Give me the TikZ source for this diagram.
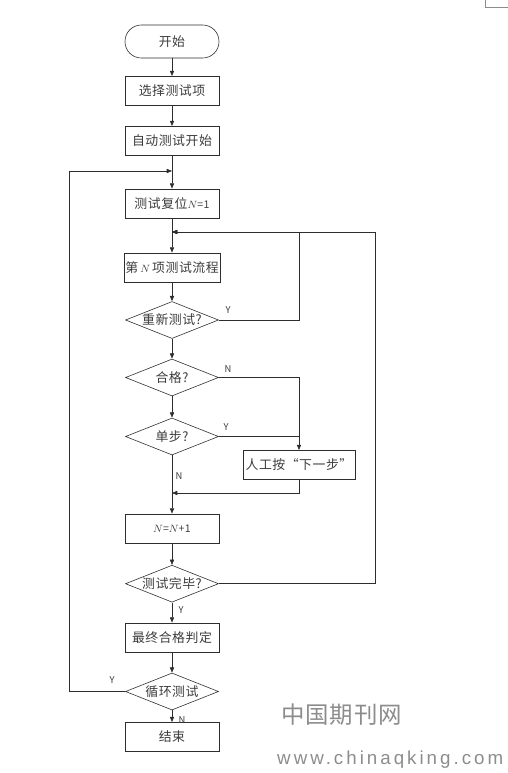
\documentclass[tikz,border=0pt]{standalone}
\usepackage{fontspec}
\usepackage{tikz}
\usetikzlibrary{shapes.geometric, arrows.meta, positioning}
\newfontfamily\cjk[LetterSpace=4]{Noto Sans CJK SC}
\newfontfamily\wmsans[LetterSpace=16]{Liberation Sans}
\definecolor{linegray}{RGB}{45,45,45}
\definecolor{textgray}{RGB}{60,60,60}
\definecolor{markgray}{RGB}{140,140,140}
\newcommand{\smallmath}[1]{{\fontsize{9}{10}\selectfont #1}}

\begin{document}
\begin{tikzpicture}[
  x=0.03cm, y=-0.03cm,
  proc/.style={rectangle, draw=linegray, line width=0.5pt, text=textgray,
               minimum width=2.82cm, minimum height=0.88cm, inner sep=1pt,
               font=\cjk\fontsize{11}{13}\selectfont, align=center},
  term/.style={proc, rounded corners=0.49cm, minimum height=0.99cm},
  decide/.style={diamond, draw=linegray, line width=0.5pt, aspect=2.5, text=textgray,
                 minimum width=2.79cm, minimum height=1.11cm, inner sep=0pt,
                 font=\cjk\fontsize{11}{13}\selectfont},
  arr/.style={-{Triangle[length=4.5pt,width=3.6pt]}, line width=0.5pt, draw=linegray},
  conn/.style={line width=0.5pt, draw=linegray},
  yn/.style={font=\cjk\fontsize{8}{9}\selectfont, text=textgray, inner sep=0pt}
]
  \useasboundingbox (0,0) rectangle (508,773);

  % Main column
  \node[term]   (start)  at (172,41.5)  {开始};
  \node[proc]   (select) at (172,91)    {选择测试项};
  \node[proc]   (auto)   at (172,141)   {自动测试开始};
  \node[proc]   (reset)  at (172,203.5) {测试复位\smallmath{$N$=1}};
  \node[proc]   (flow)   at (172,267.5) {第\,\smallmath{$N$}\,项测试流程};
  \node[decide] (retest) at (172,320)   {重新测试?};
  \node[decide] (pass)   at (172,377.5) {合格?};
  \node[decide] (single) at (172,436.5) {单步?};
  \node[proc]   (incr)   at (172,528.5) {\smallmath{$N$=$N$+1}};
  \node[decide] (done)   at (172,583.7) {测试完毕?};
  \node[proc]   (final)  at (172,637.5) {最终合格判定};
  \node[decide] (again)  at (172,691.5) {循环测试};
  \node[proc]   (stop)   at (172,737)   {结束};

  % Side box
  \node[proc, minimum width=3.36cm] (manual) at (299,465) {人工按“下一步”};

  % Junctions
  \coordinate (jloop)  at (172,171);
  \coordinate (jretry) at (172,232);
  \coordinate (jmerge) at (172,493);

  % Straight flow
  \draw[arr] (start)  -- (select);
  \draw[arr] (select) -- (auto);
  \draw[arr] (auto)   -- (reset);
  \draw[arr] (reset)  -- (flow);
  \draw[arr] (flow)   -- (retest);
  \draw[arr] (retest) -- (pass);
  \draw[arr] (pass)   -- (single);
  \draw[arr] (single) -- (incr);
  \draw[arr] (incr)   -- (done);
  \draw[arr] (done)   -- (final);
  \draw[arr] (final)  -- (again);
  \draw[arr] (again)  -- (stop);

  % Loops and branches
  \draw[arr] (retest.east) -- (299,320) |- (jretry);
  \draw[arr] (done.east) -- (375,583.7) |- (jretry);
  \draw[arr] (again.west) -- (69,691.5) |- (jloop);
  \draw[arr] (pass.east) -| (manual.north);
  \draw[conn] (single.east) -- (manual.north |- single.east);
  \draw[arr] (manual.south) |- (jmerge);

  % Labels
  \node[yn] (yretest) at (228,310) {Y};
  \node[yn] (npass)   at (228,369) {N};
  \node[yn] (ysingle) at (226,427) {Y};
  \node[yn] (nsingle) at (179,476) {N};
  \node[yn] (ydone)   at (181,610) {Y};
  \node[yn] (yagain)  at (112,680) {Y};
  \node[yn] (nagain)  at (182,720) {N};

  % Watermark and corner mark
  \node[font=\cjk\fontsize{20}{22}\selectfont, text=markgray, anchor=west, inner sep=0pt]
    (wmcn) at (281,715) {中国期刊网};
  \node[font=\wmsans\fontsize{16}{18}\selectfont, text=markgray, anchor=west, inner sep=0pt]
    (wmurl) at (277,760) {www.chinaqking.com};
  \draw[markgray, line width=0.5pt] (485.5,0) -- (485.5,7) -- (508,7);
\end{tikzpicture}
\end{document}
